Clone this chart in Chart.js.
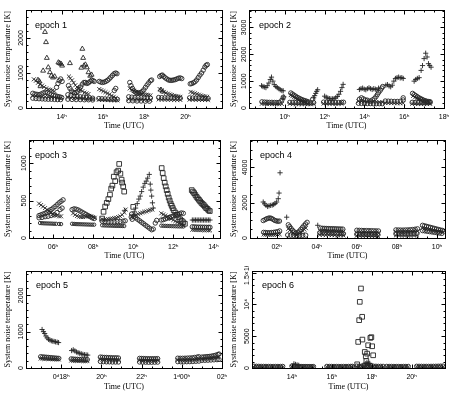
<!DOCTYPE html>
<html><head><meta charset="utf-8">
<script src="https://cdn.jsdelivr.net/npm/chart.js@4.4.1/dist/chart.umd.min.js"></script>
<style>
html,body{margin:0;padding:0;background:#fff;}
body{width:454px;height:394px;position:relative;overflow:hidden;}
canvas{position:absolute;}
</style></head><body>
<canvas id="c1" width="227" height="130" style="left:0;top:0"></canvas>
<canvas id="c2" width="227" height="130" style="left:227px;top:0"></canvas>
<canvas id="c3" width="227" height="130" style="left:0;top:130px"></canvas>
<canvas id="c4" width="227" height="130" style="left:227px;top:130px"></canvas>
<canvas id="c5" width="227" height="128" style="left:0;top:266px"></canvas>
<canvas id="c6" width="227" height="128" style="left:227px;top:266px"></canvas>
<script>
// ---------------- DATA (time in hours UTC, system noise temperature in K) ----------------
// Epoch 1
const ep1XTicks = [14, 16, 18, 20];
const ep1XLabels = ['14ʰ', '16ʰ', '18ʰ', '20ʰ'];
const ep1YTicks = [0, 1000, 2000];
const ep1YLabels = ['0', '1000', '2000'];
const ep1Triangle = [[12.85,800],[12.92,760],[12.97,620],[13.1,1065],[13.19,2170],[13.24,1880],[13.28,1430],[13.35,1160],[13.43,1020],[13.5,920],[13.58,870],[13.66,900],[13.84,1300],[13.9,1280],[13.97,1260],[14.02,1210],
 [14.4,1280],[14.95,1150],[15.0,1690],[15.04,1430],[15.08,1210],[15.15,1240],[15.22,1160],[15.3,1020],[15.38,920],[15.45,950],
 [18.8,520],[18.9,470]];
const ep1Circle = [[13.75,590],[13.82,700],[13.88,780],[13.95,830],[14.02,760],
 [12.6,420],[12.7,400],[12.8,390],[12.9,380],[13.0,400],[13.1,430],[13.2,450],[13.3,440],[13.4,410],[13.5,380],[13.6,360],[13.7,350],[13.8,330],[13.9,320],[14.0,300],
 [12.6,280],[12.75,270],[12.9,265],[13.05,260],[13.2,255],[13.35,250],[13.5,250],[13.65,245],[13.8,240],[13.95,240],
 [14.33,640],[14.4,560],[14.47,490],[14.55,450],[14.62,430],[14.7,440],[14.78,480],[14.85,540],[14.92,600],[15.0,680],[15.08,730],[15.15,730],[15.22,700],[15.3,720],[15.38,760],[15.45,790],[15.52,780],[15.58,760],
 [14.3,380],[14.45,360],[14.6,340],[14.75,330],[14.9,320],[15.05,310],[15.2,300],[15.35,290],[15.5,280],
 [14.3,250],[14.5,245],[14.7,240],[14.9,240],[15.1,235],[15.3,235],[15.5,230],
 [15.82,760],[15.9,740],[15.98,730],[16.06,740],[16.14,760],[16.22,790],[16.3,830],[16.38,880],[16.46,930],[16.54,980],[16.62,1000],[16.68,980],
 [16.55,500],[16.62,560],
 [15.8,270],[15.95,265],[16.1,260],[16.25,255],[16.4,250],[16.55,250],[16.7,245],
 [17.3,730],[17.36,640],[17.43,560],[17.5,490],[17.58,450],[17.66,430],[17.74,430],[17.82,440],[17.9,470],[17.98,520],[18.06,590],[18.14,660],[18.22,720],[18.3,780],[18.36,800],
 [17.25,320],[17.4,310],[17.55,300],[17.7,300],[17.85,295],[18.0,290],[18.15,290],[18.3,285],
 [17.25,210],[17.45,205],[17.65,200],[17.85,200],[18.05,195],[18.25,195],
 [18.75,900],[18.82,930],[18.88,940],[18.95,900],[19.02,860],[19.1,830],[19.18,800],[19.26,790],[19.34,790],[19.42,800],[19.5,810],[19.58,830],[19.66,850],[19.74,860],[19.82,840],
 [18.7,300],[18.85,295],[19.0,290],[19.15,290],[19.3,285],[19.45,285],[19.6,280],[19.75,280],
 [20.23,690],[20.3,700],[20.38,720],[20.46,750],[20.54,800],[20.62,870],[20.7,940],[20.78,1000],[20.86,1080],[20.94,1170],[21.0,1220],[21.06,1240],
 [20.2,290],[20.35,285],[20.5,280],[20.65,280],[20.8,275],[20.95,270],[21.1,270]];
const ep1Cross = [[12.65,820],[12.75,780],[12.85,720],[12.95,680],[13.05,640],[13.15,600],[13.25,560],[13.35,530],[13.45,520],[13.55,500],[13.65,480],
 [12.6,350],[12.75,340],[12.9,330],[13.05,320],[13.2,320],[13.35,310],[13.5,300],[13.65,300],[13.8,290],[13.95,280],
 [14.35,900],[14.42,850],[14.5,790],[14.58,720],[14.66,650],[14.74,600],[14.82,560],[14.9,520],[15.0,480],[15.1,440],[15.2,420],[15.3,400],
 [14.3,300],[14.45,290],[14.6,285],[14.75,280],[14.9,275],[15.05,270],[15.2,265],[15.35,260],[15.5,255],
 [15.82,540],[15.92,510],[16.02,480],[16.12,450],[16.22,420],[16.32,390],[16.42,350],[16.52,320],[16.62,290],
 [15.8,235],[15.95,230],[16.1,230],[16.25,225],[16.4,225],[16.55,220],[16.7,220],
 [17.3,560],[17.4,520],[17.5,490],[17.6,460],[17.7,440],[17.8,420],[17.9,400],[18.0,390],[18.1,380],[18.2,370],[18.3,360],
 [17.25,250],[17.4,245],[17.55,240],[17.7,240],[17.85,235],[18.0,235],[18.15,230],[18.3,230],
 [18.75,540],[18.85,500],[18.95,460],[19.05,430],[19.15,410],[19.25,390],[19.35,370],[19.45,350],[19.55,340],[19.65,330],[19.75,320],
 [18.7,245],[18.85,240],[19.0,240],[19.15,235],[19.3,235],[19.45,230],[19.6,230],[19.75,230],
 [20.25,460],[20.35,440],[20.45,420],[20.55,400],[20.65,380],[20.75,360],[20.85,340],[20.95,330],[21.05,320],
 [20.2,240],[20.35,240],[20.5,235],[20.65,235],[20.8,230],[20.95,230],[21.1,230]];

// Epoch 2
const ep2XTicks = [10, 12, 14, 16, 18];
const ep2XLabels = ['10ʰ', '12ʰ', '14ʰ', '16ʰ', '18ʰ'];
const ep2YTicks = [0, 1000, 2000, 3000];
const ep2YLabels = ['0', '1000', '2000', '3000'];
const ep2Plus = [[8.83,830],[8.9,800],[8.97,780],[9.05,760],[9.12,830],[9.2,930],[9.27,1060],[9.33,1150],[9.4,1000],[9.47,870],[9.55,800],[9.62,760],[9.7,720],[9.77,680],[9.85,650],[9.92,640],
 [9.9,330],[9.95,415],
 [11.45,380],[11.5,460],[11.55,545],[11.6,620],[11.65,680],
 [12.0,440],[12.08,400],[12.16,370],[12.24,350],[12.32,340],[12.4,340],[12.48,350],[12.56,380],[12.64,430],[12.72,510],[12.8,620],[12.87,760],[12.93,880],
 [13.75,690],[13.83,720],[13.91,740],[13.99,700],[14.07,680],[14.15,720],[14.23,750],[14.31,720],[14.39,690],[14.47,720],[14.55,700],[14.63,680],[14.71,740],
 [15.08,850],[15.16,870],[15.24,820],[15.32,790],[15.4,850],[15.48,1000],[15.56,1100],[15.64,1130],[15.72,1150],[15.8,1120],[15.88,1130],[15.95,1100],
 [16.5,1000],[16.58,1060],[16.66,1100],[16.75,1130],[16.85,1400],[16.92,1580],[17.0,1840],[17.08,2040],[17.15,1900],[17.22,1650],[17.28,1580],[17.35,1520]];
const ep2Circle = [[8.85,230],[8.98,220],[9.1,215],[9.22,210],[9.35,210],[9.48,205],[9.6,205],[9.72,210],[9.85,290],[9.92,400],
 [10.3,560],[10.38,520],[10.46,480],[10.54,440],[10.62,400],[10.7,370],[10.78,340],[10.86,310],[10.94,290],[11.02,270],[11.1,250],[11.18,230],
 [10.25,210],[10.4,205],[10.55,200],[10.7,200],[10.85,195],[11.0,195],[11.15,190],[11.3,190],[11.45,200],[11.4,330],
 [11.95,220],[12.1,215],[12.25,210],[12.4,210],[12.55,205],[12.7,205],[12.85,210],[12.95,215],
 [14.3,260],[14.4,300],[14.5,350],[14.58,420],[14.65,500],[14.72,580],[14.8,660],[14.87,740],[14.92,800],
 [13.75,330],[13.85,380],[13.95,340],[14.05,300],[14.15,290],
 [13.7,175],[13.85,170],[14.0,170],[14.15,165],[14.3,165],[14.45,160],[14.6,160],[14.75,160],[14.9,160],
 [15.05,260],[15.2,255],[15.35,250],[15.5,245],[15.65,245],[15.8,250],[15.95,300],[15.95,380],
 [16.42,545],[16.5,500],[16.58,460],[16.66,420],[16.74,380],[16.82,350],[16.9,320],[16.98,290],[17.06,270],[17.14,250],[17.22,240],[17.3,235],
 [16.4,210],[16.55,205],[16.7,200],[16.85,200],[17.0,195],[17.15,195],[17.3,200]];
const ep2Cross = [[8.85,160],[8.98,155],[9.1,150],[9.22,150],[9.35,150],[9.48,145],[9.6,145],[9.72,150],[9.85,150],
 [10.3,480],[10.38,440],[10.46,400],[10.54,370],[10.62,340],[10.7,310],[10.78,280],[10.86,260],[10.94,240],[11.02,220],[11.1,200],
 [10.25,155],[10.4,150],[10.55,150],[10.7,145],[10.85,145],[11.0,145],[11.15,140],[11.3,140],[11.45,150],
 [11.95,165],[12.1,160],[12.25,160],[12.4,155],[12.55,155],[12.7,155],[12.85,160],
 [13.7,250],[13.85,240],[14.0,235],[14.15,230],[14.3,225],[14.45,225],[14.6,220],[14.75,215],[14.9,215],
 [15.05,190],[15.2,185],[15.35,180],[15.5,180],[15.65,175],[15.8,175],[15.95,180],
 [16.45,450],[16.55,400],[16.65,360],[16.75,330],[16.85,300],[16.95,270],[17.05,250],[17.15,230],[17.25,220],
 [16.4,160],[16.55,155],[16.7,155],[16.85,150],[17.0,150],[17.15,150],[17.3,155]];

// Epoch 3
const ep3XTicks = [6, 8, 10, 12, 14];
const ep3XLabels = ['06ʰ', '08ʰ', '10ʰ', '12ʰ', '14ʰ'];
const ep3YTicks = [0, 500, 1000];
const ep3YLabels = ['0', '500', '1000'];
const ep3Square = [[8.45,260],[8.52,350],[8.6,420],[8.68,470],[8.76,520],[8.84,580],[8.9,660],[8.96,700],[9.03,820],[9.1,760],[9.17,880],[9.25,900],[9.3,990],[9.36,860],[9.42,780],[9.45,740],[9.5,690],[9.55,620],
 [10.0,416],
 [11.42,935],[11.47,868],[11.52,800],[11.57,740],[11.62,690],[11.67,640],[11.72,590],[11.77,540],[11.82,500],[11.87,460],[11.92,430],[11.97,400],[12.02,370],[12.1,340],[12.18,310],[12.26,280],[12.34,250],[12.42,230],[12.5,210],[12.58,190],
 [12.92,640],[12.98,620],[13.04,600],[13.1,575],[13.16,550],[13.22,530],[13.28,510],[13.34,490],[13.4,470],[13.46,455],[13.52,440],[13.58,420],[13.64,400],[13.7,390],[13.76,370],[13.82,360]];
const ep3Plus = [[9.58,370],
 [10.05,350],[10.12,400],[10.2,460],[10.28,520],[10.35,560],[10.42,620],[10.5,680],[10.58,730],[10.65,760],[10.72,800],[10.8,850],[10.85,720],[10.88,640],[10.92,560],[10.96,470],[11.0,400],
 [12.95,240],[13.03,240],[13.11,240],[13.19,240],[13.27,240],[13.35,240],[13.43,240],[13.51,240],[13.59,240],[13.67,240],[13.75,240],[13.83,240]];
const ep3Cross = [[5.3,460],[5.4,440],[5.5,420],[5.6,400],[5.7,380],[5.8,360],[5.9,340],[6.0,320],[6.1,310],[6.2,300],[6.3,290],[6.4,290],
 [7.0,330],[7.1,310],[7.2,295],[7.3,285],[7.4,280],[7.5,280],[7.6,285],[7.7,290],[7.8,295],[7.9,290],[8.0,280],[8.08,270],
 [8.45,250],[8.55,245],[8.65,245],[8.75,250],[8.85,255],[8.95,260],[9.05,265],[9.15,270],[9.25,280],[9.35,290],[9.45,310],[9.55,340],[9.62,380],
 [9.95,290],[10.05,300],[10.15,310],[10.25,320],[10.35,330],[10.45,340],[10.55,350],[10.65,355],[10.75,365],[10.85,375],[10.95,380],
 [11.4,330],[11.5,315],[11.6,300],[11.7,285],[11.8,270],[11.9,255],[12.0,240],[12.1,225],[12.2,210],[12.3,195],[12.4,180],[12.5,170],
 [12.95,110],[13.05,108],[13.15,107],[13.25,106],[13.35,105],[13.45,105],[13.55,104],[13.65,104],[13.75,103],[13.83,103]];
const ep3Circle = [[5.3,300],[5.4,310],[5.5,320],[5.6,330],[5.7,345],[5.8,360],[5.9,380],[6.0,400],[6.1,420],[6.2,445],[6.3,470],[6.4,490],[6.5,510],
 [5.3,270],[5.45,275],[5.6,285],[5.75,290],[5.9,300],[6.05,310],[6.2,340],[6.35,380],[6.45,400],
 [6.95,380],[7.05,390],[7.15,385],[7.25,375],[7.35,360],[7.45,345],[7.55,330],[7.65,315],[7.75,300],[7.85,285],[7.95,270],[8.05,260],
 [8.45,225],[8.6,220],[8.75,215],[8.9,215],[9.05,215],[9.2,220],[9.35,220],[9.5,225],[9.6,230],
 [9.9,280],[9.95,250],
 [9.92,320],[10.02,290],[10.12,270],[10.22,250],[10.32,230],[10.42,210],[10.52,190],[10.62,170],[10.72,150],[10.82,130],[10.92,110],[11.0,120],[11.1,200],[11.17,235],
 [11.4,240],[11.5,245],[11.6,255],[11.7,265],[11.8,275],[11.9,285],[12.0,295],[12.1,305],[12.2,315],[12.3,325],[12.4,335],[12.5,330],
 [12.95,150],[13.05,148],[13.15,146],[13.25,145],[13.35,145],[13.45,144],[13.55,144],[13.65,143],[13.75,143],[13.83,143]];
const ep3Dot = [[5.35,200],[5.45,198],[5.55,196],[5.65,195],[5.75,194],[5.85,193],[5.95,192],[6.05,190],[6.15,190],[6.3,188],[6.4,186],
 [6.95,190],[7.05,188],[7.15,186],[7.25,185],[7.35,184],[7.45,183],[7.55,182],[7.65,181],[7.75,180],[7.85,179],[7.95,178],[8.05,178],
 [8.45,170],[8.55,168],[8.65,167],[8.75,166],[8.85,165],[8.95,164],[9.05,163],[9.15,162],[9.25,162],[9.35,161],[9.45,160],[9.55,160],
 [11.4,165],[11.5,163],[11.6,162],[11.7,161],[11.8,160],[11.9,159],[12.0,158],[12.1,157],[12.2,156],[12.3,155],[12.4,155],[12.5,154]];

// Epoch 4
const ep4XTicks = [2, 4, 6, 8, 10];
const ep4XLabels = ['02ʰ', '04ʰ', '06ʰ', '08ʰ', '10ʰ'];
const ep4YTicks = [0, 2000, 4000];
const ep4YLabels = ['0', '2000', '4000'];
const ep4Plus = [[1.33,2040],[1.4,1940],[1.47,1850],[1.55,1790],[1.62,1830],[1.7,1850],[1.78,1870],[1.85,1900],[1.92,1960],[2.0,2040],[2.08,2230],[2.12,2550],[2.17,3700],
 [2.5,1180],[4.05,720]];
const ep4Circle = [[1.33,990],[1.42,1040],[1.5,1090],[1.58,1120],[1.66,1140],[1.74,1110],[1.82,1060],[1.9,1000],[1.98,970],[2.06,950],[2.14,960],
 [1.35,320],[1.45,310],[1.55,300],[1.65,300],[1.75,310],[1.85,320],[1.95,340],[2.05,360],[2.15,400],
 [2.58,750],[2.65,650],[2.72,540],[2.8,430],[2.88,340],[2.96,280],[3.04,300],[3.12,380],[3.2,480],[3.28,590],[3.36,700],[3.44,800],[3.52,890],
 [2.55,170],[2.7,160],[2.85,150],[3.0,140],[3.15,140],[3.3,150],[3.45,160],
 [4.2,560],[4.3,550],[4.4,545],[4.5,540],[4.6,535],[4.7,530],[4.8,530],[4.9,525],[5.0,520],[5.1,515],[5.2,510],[5.3,505],
 [4.15,300],[4.27,290],[4.39,285],[4.51,280],[4.63,275],[4.75,270],[4.87,265],[4.99,260],[5.11,255],[5.23,250],[5.33,245],
 [6.0,440],[6.12,435],[6.24,430],[6.36,425],[6.48,420],[6.6,420],[6.72,415],[6.84,410],[6.96,405],[7.08,400],
 [6.0,210],[6.15,205],[6.3,200],[6.45,200],[6.6,195],[6.75,195],[6.9,190],[7.05,190],
 [7.95,460],[8.07,455],[8.19,450],[8.31,450],[8.43,455],[8.55,460],[8.67,470],[8.79,480],[8.91,500],[9.03,520],
 [7.95,240],[8.1,235],[8.25,230],[8.4,230],[8.55,230],[8.7,235],[8.85,240],[9.0,250],
 [9.28,720],[9.38,690],[9.48,660],[9.58,630],[9.68,600],[9.78,570],[9.88,540],[9.98,510],[10.08,480],[10.18,450],[10.28,430],
 [9.28,420],[9.4,400],[9.52,380],[9.64,360],[9.76,340],[9.88,320],[10.0,300],[10.12,280],[10.24,260]];
const ep4Cross = [[1.35,200],[1.45,190],[1.55,185],[1.65,180],[1.75,180],[1.85,185],[1.95,190],[2.05,200],[2.15,210],
 [2.58,520],[2.66,440],[2.74,360],[2.82,290],[2.9,230],[2.98,190],[3.06,200],[3.14,250],[3.22,320],[3.3,400],[3.38,480],[3.46,560],
 [4.15,420],[4.27,410],[4.39,400],[4.51,395],[4.63,390],[4.75,385],[4.87,380],[4.99,375],[5.11,370],[5.23,365],[5.33,360],
 [4.15,180],[4.3,175],[4.45,170],[4.6,165],[4.75,160],[4.9,155],[5.05,150],[5.2,150],[5.33,145],
 [6.0,310],[6.12,305],[6.24,300],[6.36,300],[6.48,295],[6.6,290],[6.72,290],[6.84,285],[6.96,280],[7.08,280],
 [6.0,130],[6.15,125],[6.3,120],[6.45,120],[6.6,115],[6.75,115],[6.9,110],[7.05,110],
 [7.95,350],[8.07,345],[8.19,340],[8.31,340],[8.43,340],[8.55,345],[8.67,350],[8.79,360],[8.91,370],[9.03,390],
 [7.95,150],[8.1,145],[8.25,140],[8.4,140],[8.55,140],[8.7,140],[8.85,145],[9.0,150],
 [9.28,560],[9.38,540],[9.48,510],[9.58,490],[9.68,460],[9.78,440],[9.88,410],[9.98,390],[10.08,370],[10.18,350],[10.28,330]];

// Epoch 5 (hours continue past midnight: 24 = 1d00h)
const ep5XTicks = [18, 20, 22, 24, 26];
const ep5XLabels = ['0ᵈ18ʰ', '20ʰ', '22ʰ', '1ᵈ00ʰ', '02ʰ'];
const ep5YTicks = [0, 1000, 2000];
const ep5YLabels = ['0', '1000', '2000'];
const ep5Plus = [[17.05,1060],[17.12,1000],[17.18,950],[17.24,880],[17.3,830],[17.37,790],[17.44,770],[17.51,750],[17.58,740],[17.65,730],[17.72,720],[17.8,710],[17.87,700],
 [18.52,480],[18.6,500],[18.68,470],[18.76,440],[18.84,420],[18.92,405],[19.0,390],[19.08,375],[19.16,365],[19.24,360],[19.32,355]];
const ep5Circle = [[16.98,310],[17.08,305],[17.18,300],[17.28,295],[17.38,290],[17.48,285],[17.58,280],[17.68,275],[17.78,270],[17.88,265],
 [18.5,250],[18.6,245],[18.7,240],[18.8,240],[18.9,235],[19.0,235],[19.1,230],[19.2,230],[19.3,230],
 [19.95,300],[20.05,295],[20.15,290],[20.25,290],[20.35,285],[20.45,285],[20.55,280],[20.65,280],[20.75,280],[20.85,275],
 [19.95,180],[20.1,175],[20.25,170],[20.4,170],[20.55,165],[20.7,165],[20.85,165],
 [21.9,265],[22.0,262],[22.1,260],[22.2,258],[22.3,256],[22.4,255],[22.5,255],[22.6,255],[22.7,256],[22.8,258],
 [21.9,165],[22.05,162],[22.2,160],[22.35,158],[22.5,158],[22.65,160],[22.8,162],
 [23.8,270],[23.92,268],[24.04,268],[24.16,270],[24.28,272],[24.4,276],[24.52,280],[24.64,290],[24.76,300],[24.85,310],
 [23.8,175],[23.95,172],[24.1,172],[24.25,174],[24.4,176],[24.55,180],[24.7,185],[24.85,190],
 [25.0,300],[25.1,305],[25.2,310],[25.3,315],[25.4,320],[25.5,330],[25.6,340],[25.7,355],[25.8,370],[25.85,385],
 [25.0,210],[25.15,212],[25.3,215],[25.45,220],[25.6,225],[25.75,230],[25.85,235]];
const ep5Cross = [[16.98,260],[17.08,255],[17.18,250],[17.28,250],[17.38,245],[17.48,245],[17.58,240],[17.68,240],[17.78,235],[17.88,235],
 [18.5,205],[18.6,200],[18.7,200],[18.8,195],[18.9,195],[19.0,195],[19.1,190],[19.2,190],[19.3,190],
 [19.95,240],[20.05,235],[20.15,230],[20.25,230],[20.35,230],[20.45,225],[20.55,225],[20.65,225],[20.75,220],[20.85,220],
 [21.9,215],[22.0,212],[22.1,210],[22.2,208],[22.3,206],[22.4,205],[22.5,205],[22.6,205],[22.7,206],[22.8,208],
 [23.8,220],[23.92,218],[24.04,218],[24.16,220],[24.28,222],[24.4,225],[24.52,228],[24.64,235],[24.76,240],[24.85,250],
 [25.0,250],[25.1,255],[25.2,258],[25.3,262],[25.4,268],[25.5,275],[25.6,282],[25.7,290],[25.8,300]];

// Epoch 6
const ep6XTicks = [14, 16, 18, 20];
const ep6XLabels = ['14ʰ', '16ʰ', '18ʰ', '20ʰ'];
const ep6YTicks = [0, 5000, 10000, 15000];
const ep6YLabels = ['0', '5000', '10⁴', '1.5×10⁴'];
const ep6Square = [[17.27,580],[17.32,4100],[17.37,7520],[17.4,10400],[17.46,12500],[17.52,8050],[17.53,4470],[17.65,2520],[17.7,1840],[17.73,1100],[17.77,2260],[17.82,3580],[17.93,4730],[17.98,4850],[18.02,3420],[18.07,2000]];
const ep6Plus = [[14.1,650],[14.18,560],[14.26,480],[14.34,420],
 [17.7,700],[17.75,800],[17.8,750],[17.85,650],[17.9,720]];
const ep6Circle = [[12.1,280],[12.22,270],[12.34,260],[12.46,250],[12.58,250],[12.7,245],[12.82,240],[12.94,240],[13.06,235],[13.18,235],[13.3,240],[13.42,240],[13.54,245],
 [14.0,300],[14.1,280],[14.2,260],[14.3,250],[14.4,240],[14.5,235],[14.6,230],[14.7,230],[14.8,225],[14.9,225],[15.0,220],[15.08,220],
 [15.75,250],[15.87,245],[15.99,240],[16.11,240],[16.23,235],[16.35,235],[16.47,235],[16.59,240],[16.71,240],[16.83,245],[16.95,250],[17.03,255],
 [17.25,300],[17.37,290],[17.49,280],[17.61,290],[17.73,300],[17.85,300],[17.97,290],[18.09,280],[18.21,270],[18.33,260],[18.45,260],[18.57,255],
 [17.6,450],[17.8,480],[17.95,420],
 [18.75,250],[18.87,245],[18.99,240],[19.11,240],[19.23,235],[19.35,235],[19.47,235],[19.59,240],[19.71,240],[19.83,245],
 [20.25,270],[20.37,265],[20.49,260],[20.61,255],[20.73,255],[20.85,255],[20.97,260],[21.09,265],[21.21,270],[21.33,280],[21.45,290],[21.57,300]];
const ep6Cross = [[12.1,160],[12.22,155],[12.34,150],[12.46,150],[12.58,145],[12.7,145],[12.82,140],[12.94,140],[13.06,140],[13.18,135],[13.3,135],[13.42,140],[13.54,140],
 [14.0,170],[14.12,160],[14.24,150],[14.36,145],[14.48,140],[14.6,140],[14.72,135],[14.84,135],[14.96,130],[15.08,130],
 [15.75,150],[15.87,145],[15.99,140],[16.11,140],[16.23,135],[16.35,135],[16.47,135],[16.59,140],[16.71,140],[16.83,145],[16.95,150],[17.03,150],
 [17.25,170],[17.37,165],[17.49,160],[17.61,160],[17.73,170],[17.85,170],[17.97,165],[18.09,160],[18.21,155],[18.33,150],[18.45,150],[18.57,150],
 [18.75,150],[18.87,145],[18.99,140],[19.11,140],[19.23,135],[19.35,135],[19.47,135],[19.59,140],[19.71,140],[19.83,145],
 [20.25,160],[20.37,155],[20.49,150],[20.61,150],[20.73,150],[20.85,150],[20.97,155],[21.09,155],[21.21,160],[21.33,165],[21.45,170],[21.57,175]];

// ---------------- RENDERING ----------------
const SANS = "'Liberation Sans', 'DejaVu Sans', sans-serif";
const SERIF = "'Liberation Serif', 'DejaVu Serif', serif";
const INK = '#262626';
const MARKERS = {
  circle:   {pointStyle: 'circle',   r: 2.2},
  cross:    {pointStyle: 'crossRot', r: 2.8},
  plus:     {pointStyle: 'cross',    r: 2.6},
  triangle: {pointStyle: 'triangle', r: 2.8},
  square:   {pointStyle: 'rect',     r: 3.3},
  dot:      {pointStyle: 'circle',   r: 1.7}
};

const panels = [
  {id:'c1', epoch:'epoch 1', x:[12.27,21.77], y:[0,2800], xt:ep1XTicks, xl:ep1XLabels, yt:ep1YTicks, yl:ep1YLabels, yMaj:1000, yMin:200,
   area:{l:26,r:222,t:10,b:108}, yPad:4, xPad:0, ex:9, ey:18,
   series:[[ep1Circle,'circle'],[ep1Cross,'cross'],[ep1Triangle,'triangle']]},
  {id:'c2', epoch:'epoch 2', x:[8.2,18.0], y:[0,3650], xt:ep2XTicks, xl:ep2XLabels, yt:ep2YTicks, yl:ep2YLabels, yMaj:1000, yMin:200,
   area:{l:22,r:217,t:10,b:108}, yPad:2.5, xPad:0, ex:10, ey:18,
   series:[[ep2Circle,'circle'],[ep2Cross,'cross'],[ep2Plus,'plus']]},
  {id:'c3', epoch:'epoch 3', x:[4.8,14.33], y:[0,1310], xt:ep3XTicks, xl:ep3XLabels, yt:ep3YTicks, yl:ep3YLabels, yMaj:500, yMin:100,
   area:{l:29,r:220,t:10,b:108}, yPad:3.5, xPad:0, ex:6, ey:18,
   series:[[ep3Dot,'dot'],[ep3Circle,'circle'],[ep3Cross,'cross'],[ep3Plus,'plus'],[ep3Square,'square']]},
  {id:'c4', epoch:'epoch 4', x:[0.67,10.4], y:[0,5560], xt:ep4XTicks, xl:ep4XLabels, yt:ep4YTicks, yl:ep4YLabels, yMaj:2000, yMin:500,
   area:{l:23,r:218,t:10,b:108}, yPad:2.7, xPad:0, ex:10, ey:18,
   series:[[ep4Circle,'circle'],[ep4Cross,'cross'],[ep4Plus,'plus']]},
  {id:'c5', epoch:'epoch 5', x:[16.25,26.0], y:[0,2670], xt:ep5XTicks, xl:ep5XLabels, yt:ep5YTicks, yl:ep5YLabels, yMaj:1000, yMin:200,
   area:{l:26,r:222,t:5,b:102}, yPad:3.5, xPad:3.3, ex:10, ey:17,
   series:[[ep5Circle,'circle'],[ep5Cross,'cross'],[ep5Plus,'plus']]},
  {id:'c6', epoch:'epoch 6', x:[12.0,21.67], y:[0,15250], xt:ep6XTicks, xl:ep6XLabels, yt:ep6YTicks, yl:ep6YLabels, yMaj:5000, yMin:1000,
   area:{l:25,r:218,t:5,b:102}, yPad:3.3, xPad:3.3, ex:10, ey:17,
   series:[[ep6Circle,'circle'],[ep6Cross,'cross'],[ep6Plus,'plus'],[ep6Square,'square']]}
];

function ticksIn(min, max, step) {
  const out = [];
  for (let i = Math.ceil(min / step - 1e-9); i * step <= max + 1e-9; i++) out.push(i * step);
  return out;
}
function isMajor(v, step) { const q = v / step; return Math.abs(q - Math.round(q)) < 1e-6; }

function framePlugin(p) {
  return {
    id: 'frame' + p.id,
    afterDatasetsDraw(chart) {
      const {ctx, chartArea: a, scales: {x, y}} = chart;
      ctx.save();
      ctx.strokeStyle = '#000';
      ctx.lineWidth = 1;
      const L = Math.round(a.left) + 0.5, R = Math.round(a.right) + 0.5;
      const T = Math.round(a.top) + 0.5, B = Math.round(a.bottom) + 0.5;
      ctx.strokeRect(L, T, R - L, B - T);
      ctx.beginPath();
      ticksIn(x.min, x.max, 0.5).forEach(v => {
        const px = Math.round(x.getPixelForValue(v)) + 0.5;
        const len = isMajor(v, 2) ? 4 : 2;
        ctx.moveTo(px, B); ctx.lineTo(px, B - len);
        ctx.moveTo(px, T); ctx.lineTo(px, T + len);
      });
      ticksIn(y.min, y.max, p.yMin).forEach(v => {
        const py = Math.round(y.getPixelForValue(v)) + 0.5;
        const len = isMajor(v, p.yMaj) ? 4 : 2;
        ctx.moveTo(L, py); ctx.lineTo(L + len, py);
        ctx.moveTo(R, py); ctx.lineTo(R - len, py);
      });
      ctx.stroke();
      // y tick labels, vertical as in the original plot
      ctx.fillStyle = '#000';
      ctx.font = '7px ' + SANS;
      ctx.textAlign = 'center';
      ctx.textBaseline = 'middle';
      p.yt.forEach((v, i) => {
        ctx.save();
        ctx.translate(a.left - 5, y.getPixelForValue(v));
        ctx.rotate(-Math.PI / 2);
        ctx.fillText(p.yl[i], 0, 0);
        ctx.restore();
      });
      // panel label
      ctx.font = '9px ' + SANS;
      ctx.textAlign = 'left';
      ctx.textBaseline = 'alphabetic';
      ctx.fillText(p.epoch, a.left + p.ex, a.top + p.ey);
      ctx.restore();
    }
  };
}

panels.forEach(p => {
  const canvas = document.getElementById(p.id);
  const W = canvas.width, H = canvas.height;
  const datasets = p.series.map(([arr, kind]) => {
    const m = MARKERS[kind];
    return {
      data: arr.map(q => ({x: q[0], y: q[1]})),
      pointStyle: m.pointStyle,
      pointRadius: m.r,
      pointBorderWidth: 0.9,
      borderColor: INK,
      backgroundColor: 'rgba(0,0,0,0)',
      pointBackgroundColor: 'rgba(0,0,0,0)',
      showLine: false
    };
  });
  new Chart(canvas, {
    type: 'scatter',
    data: {datasets},
    options: {
      animation: false, responsive: false, devicePixelRatio: 1,
      events: [],
      layout: {padding: {left: 0, right: W - p.area.r, top: p.area.t, bottom: 0}},
      plugins: {legend: {display: false}, tooltip: {enabled: false}},
      scales: {
        x: {
          type: 'linear', min: p.x[0], max: p.x[1], bounds: 'data',
          grid: {display: false, drawTicks: false}, border: {display: false},
          afterBuildTicks: s => { s.ticks = p.xt.map(v => ({value: v})); },
          afterFit: s => { s.height = H - p.area.b; s.paddingLeft = 0; s.paddingRight = 0; },
          ticks: {autoSkip: false, maxRotation: 0, minRotation: 0, padding: 5,
                  font: {size: 7, family: SANS}, color: '#000',
                  callback: (v, i) => p.xl[i]},
          title: {display: true, text: 'Time (UTC)', color: '#000',
                  font: {size: 8, family: SERIF, lineHeight: 1}, padding: {top: 0, bottom: p.xPad}}
        },
        y: {
          type: 'linear', min: p.y[0], max: p.y[1], bounds: 'data',
          grid: {display: false, drawTicks: false}, border: {display: false},
          ticks: {display: false},
          afterFit: s => { s.width = p.area.l; s.paddingTop = 0; s.paddingBottom = 0; },
          title: {display: true, text: 'System noise temperature [K]', color: '#000',
                  font: {size: 8, family: SERIF, lineHeight: 1}, padding: {top: p.yPad, bottom: 0}}
        }
      }
    },
    plugins: [framePlugin(p)]
  });
});
</script>
</body></html>
